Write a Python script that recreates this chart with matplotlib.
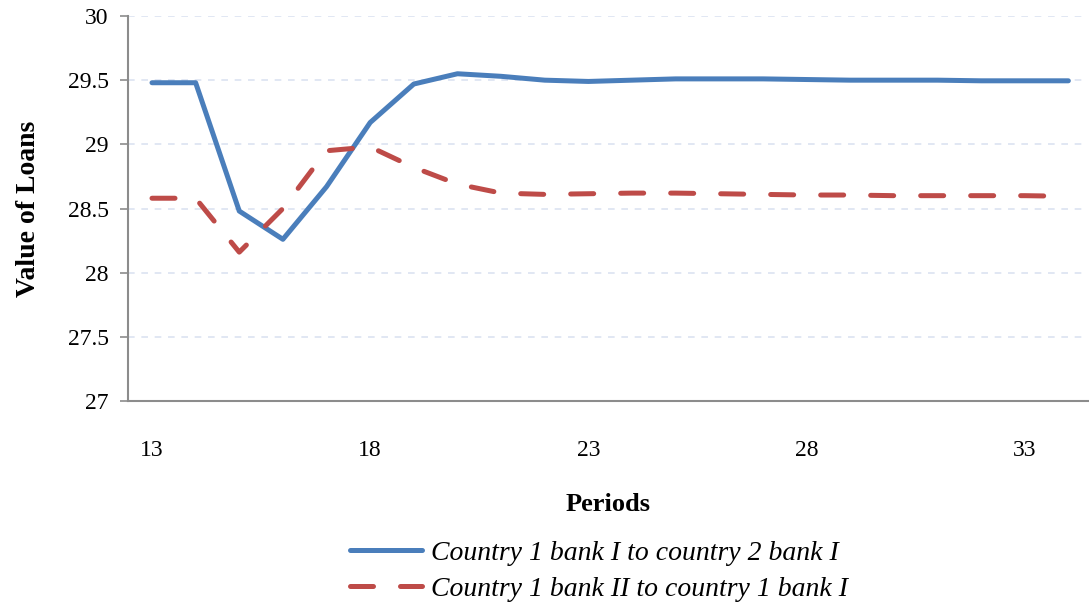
import matplotlib
matplotlib.use('Agg')
import matplotlib.pyplot as plt

periods = list(range(13, 35))
bank1_to_c2 = [29.48, 29.48, 28.48, 28.26, 28.67, 29.17, 29.47, 29.55, 29.53, 29.50, 29.49,
               29.50, 29.51, 29.51, 29.51, 29.505, 29.50, 29.50, 29.50, 29.495, 29.495, 29.495]
bank2_to_c1 = [28.58, 28.58, 28.16, 28.50, 28.95, 28.98, 28.82, 28.69, 28.62, 28.61, 28.615,
               28.62, 28.62, 28.615, 28.61, 28.605, 28.605, 28.60, 28.60, 28.60, 28.60, 28.595]
label1 = 'Country 1 bank I to country 2 bank I'
label2 = 'Country 1 bank II to country 1 bank I'
xticks = [13, 18, 23, 28, 33]
yticks = [27, 27.5, 28, 28.5, 29, 29.5, 30]

plt.rcParams['font.family'] = ['Liberation Serif', 'DejaVu Serif']

fig = plt.figure(figsize=(10.89, 6.06), dpi=100)
ax = fig.add_axes([128 / 1089, 1 - 401 / 606, 960 / 1089, 385 / 606])

ax.plot(periods, bank1_to_c2, color='#4A7EBB', linewidth=3.6, label=label1,
        solid_capstyle='round', solid_joinstyle='round')
ax.plot(periods, bank2_to_c1, color='#BE4B48', linewidth=3.6, label=label2,
        linestyle=(0, (4.6, 5.4)), dash_capstyle='round')

ax.set_xlim(12.45, 34.45)
ax.set_ylim(27, 30)
ax.set_xticks(xticks)
ax.set_xticklabels([str(t) for t in xticks])
ax.set_yticks(yticks)
ax.set_yticklabels(['27', '27.5', '28', '28.5', '29', '29.5', '30'])
ax.tick_params(axis='x', length=0, pad=28, labelsize=17)
ax.tick_params(axis='y', length=6, width=1.2, color='#8C8C8C', pad=8, labelsize=17)

ax.yaxis.grid(True, color='#DCE3F1', linestyle=(0, (4, 4)), linewidth=1.2)
ax.set_axisbelow(True)
for s in ['top', 'right']:
    ax.spines[s].set_visible(False)
for s in ['left', 'bottom']:
    ax.spines[s].set_color('#8C8C8C')
    ax.spines[s].set_linewidth(1.5)

ax.set_ylabel('Value of Loans', fontsize=20, fontweight='bold', labelpad=19)
ax.set_xlabel('Periods', fontsize=19, fontweight='bold', labelpad=23)

leg = fig.legend(loc='upper center', bbox_to_anchor=(0.55, 0.15), ncol=1, frameon=False,
                 prop={'style': 'italic', 'size': 20}, handlelength=2.6, labelspacing=0.4,
                 handletextpad=0.3)

fig.savefig('out.png', dpi=100)
